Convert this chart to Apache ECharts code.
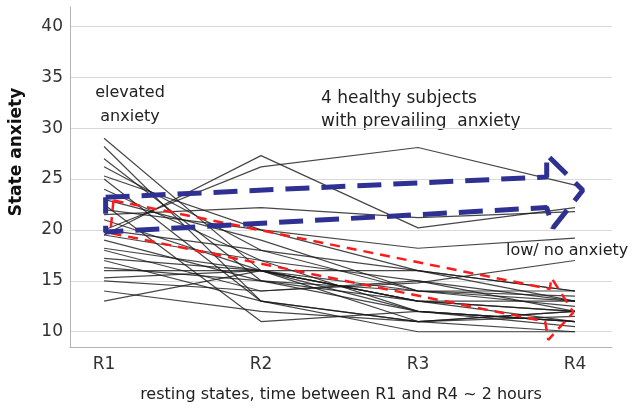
<!DOCTYPE html>
<html>
<head>
<meta charset="utf-8">
<script src="https://cdn.jsdelivr.net/npm/echarts@6/dist/echarts.min.js"></script>
<style>html,body{margin:0;padding:0;background:#fff}#c{width:644px;height:413px}</style>
</head>
<body>
<div id="c"></div>
<script>
// Categories (resting states)
const categories = ['R1', 'R2', 'R3', 'R4'];
// Y tick labels
const yTicks = [10, 15, 20, 25, 30, 35, 40];

// Subjects with prevailing anxiety (R1..R4)
const prevailing = [
  [20, 26.2, 28.1, 24.4],
  [19.5, 27.3, 20.2, 22.2],
  [21.5, 22.2, 21.2, 21.8],
  [22, 20, 18.2, 19.2]
];
// Subjects with decreasing / low anxiety (R1..R4)
const lowAnxiety = [
  [29, 16, 13, 12],
  [28.2, 13, 11, 10],
  [27, 15, 12, 11],
  [26.2, 18, 14, 13],
  [25.3, 20, 16, 14],
  [25, 13, 11, 12],
  [24, 17, 15, 13],
  [23, 19, 14, 12.5],
  [22.5, 11, 12, 11],
  [21, 16, 13, 13],
  [20, 18, 16, 14],
  [19.5, 17, 12, 10.5],
  [19, 15, 14, 13.5],
  [18.2, 16, 11, 11.5],
  [18, 14, 15, 12],
  [17.2, 16, 16, 13],
  [17, 13, 10, 10],
  [16.3, 15, 13, 12],
  [16, 16, 14, 14],
  [15.3, 16, 12, 11],
  [15, 14, 14.8, 17],
  [14, 12, 11, 12],
  [13, 16, 13, 11]
];
// Annotation outlines in data space: [x position (category index), value]
const blueArrow = [[0.01, 23.2], [2.82, 25.2], [2.82, 27.4], [3.05, 23.9], [2.86, 20.2], [2.82, 22.2], [0.01, 19.8], [0.01, 23.2]];
const redArrow = [[0.06, 22.9], [2.84, 14.2], [2.85, 15.3], [2.99, 11.9], [2.83, 9.2], [2.81, 11.0], [0.04, 19.7], [0.06, 22.9]];

const FONT = 'DejaVu Sans';
const chart = echarts.init(document.getElementById('c'), null, {renderer: 'canvas'});

const subjectSeries = prevailing.concat(lowAnxiety).map(function (vals) {
  return {
    type: 'line',
    data: vals.map(function (v, i) { return [i, v]; }),
    symbol: 'none',
    silent: true,
    lineStyle: {color: 'rgba(25,25,25,0.8)', width: 1.2},
    z: 2
  };
});

const option = {
  animation: false,
  backgroundColor: '#ffffff',
  grid: {left: 70, right: 32, top: 7, bottom: 66},
  xAxis: {
    type: 'value',
    min: -0.217,
    max: 3.236,
    name: 'resting states, time between R1 and R4 ~ 2 hours',
    nameLocation: 'middle',
    nameGap: 40,
    nameTextStyle: {fontFamily: FONT, fontSize: 16, color: '#222'},
    axisLine: {show: true, onZero: false, lineStyle: {color: '#b3b3b3', width: 1}},
    axisTick: {show: false, customValues: [0, 1, 2, 3]},
    axisLabel: {
      customValues: [0, 1, 2, 3],
      formatter: function (v) { return categories[Math.round(v)]; },
      fontFamily: FONT, fontSize: 17, color: '#333', margin: 9
    },
    splitLine: {show: false}
  },
  yAxis: {
    type: 'value',
    min: 8.5,
    max: 41.9,
    axisLine: {show: true, onZero: false, lineStyle: {color: '#b3b3b3', width: 1}},
    axisTick: {show: false, customValues: yTicks},
    axisLabel: {customValues: yTicks, fontFamily: FONT, fontSize: 17, color: '#333', margin: 7},
    splitLine: {show: true, lineStyle: {color: '#d9d9d9', width: 1}}
  },
  graphic: [
    {type: 'text', x: 8, y: 152, rotation: Math.PI / 2,
      style: {text: 'State anxiety', font: 'bold 17px "' + FONT + '"', fill: '#111', textAlign: 'center', textVerticalAlign: 'top'}},
    {type: 'text', x: 130, y: 81,
      style: {text: 'elevated\nanxiety', font: '16px "' + FONT + '"', fill: '#222', textAlign: 'center', lineHeight: 24}},
    {type: 'text', x: 321, y: 87,
      style: {text: '4 healthy subjects\nwith prevailing  anxiety', font: '17px "' + FONT + '"', fill: '#222', textAlign: 'left', lineHeight: 23}},
    {type: 'text', x: 506, y: 243,
      style: {text: 'low/ no anxiety', font: '16px "' + FONT + '"', fill: '#222', textAlign: 'left'}}
  ],
  series: subjectSeries.concat([
    {
      type: 'line', data: blueArrow, symbol: 'none', silent: true, z: 5,
      lineStyle: {color: '#2e3192', width: 5, type: [24, 12]}
    },
    {
      type: 'line', data: redArrow, symbol: 'none', silent: true, z: 4,
      lineStyle: {color: '#ff1a1a', width: 2.5, type: [10, 7]}
    }
  ])
};
chart.setOption(option);
</script>
</body>
</html>
